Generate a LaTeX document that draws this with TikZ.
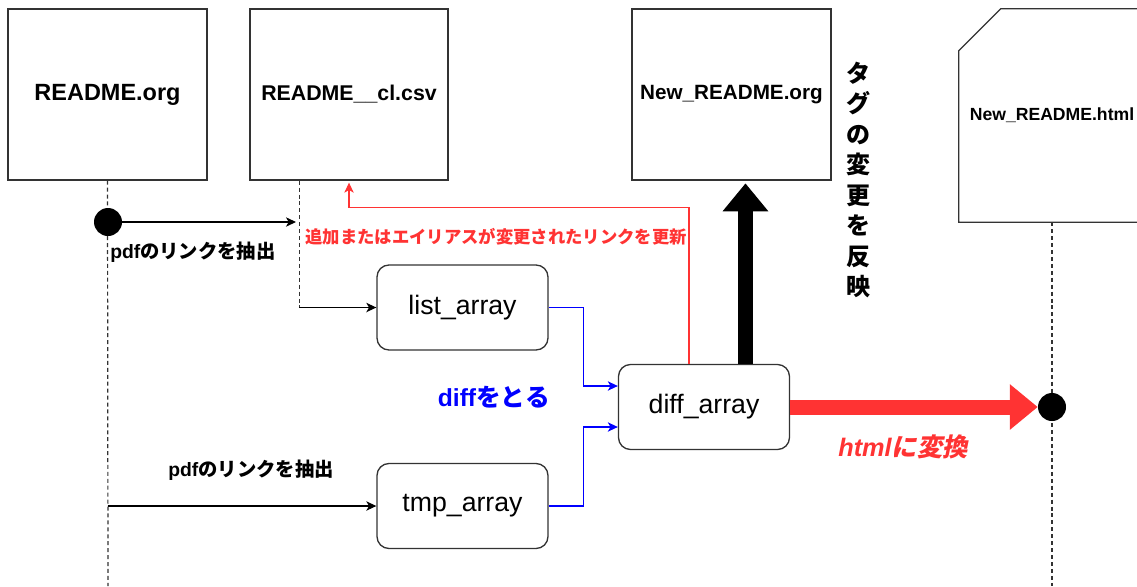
\documentclass[tikz,border=0pt]{standalone}
\usepackage{fontspec}
\setmainfont{Liberation Sans}
\newfontfamily\jp{Noto Sans CJK JP}
\newfontfamily\jpsl{Noto Sans CJK JP}[FakeSlant=0.2]
\usetikzlibrary{arrows.meta}

\definecolor{hotred}{HTML}{FF3333}
\definecolor{edge}{HTML}{333333}

\tikzset{
  doc/.style={draw=edge, line width=1pt, fill=white, minimum width=149.25pt,
    minimum height=128.25pt, inner sep=0pt, font=\bfseries},
  arrbox/.style={draw=edge, line width=1pt, rounded corners=9pt, fill=white,
    minimum width=128.25pt, minimum height=63.75pt, inner sep=0pt,
    font=\fontsize{20}{24}\selectfont},
  life/.style={draw=edge, line width=0.9pt, dash pattern=on 3pt off 2.2pt},
  dot/.style={circle, fill=black, minimum size=21pt, inner sep=0pt},
  msg/.style={line width=0.9pt, -{Stealth[length=7.5pt,width=7pt,inset=2pt]}},
  lbl/.style={inner sep=0pt},
  fat/.style={line width=11.25pt, -{Triangle[length=21pt,width=33pt]}},
}

\begin{document}
\begin{tikzpicture}[x=0.75pt,y=-0.75pt]
\useasboundingbox (0,0) rectangle (1137,586);
\clip (0,0) rectangle (1137,586);

% documents along the top
\node[doc, font=\fontsize{17.6}{22}\bfseries\selectfont] (readme) at (107.5,94.5) {README.org};
\node[doc, minimum width=148.5pt, font=\fontsize{16}{20}\bfseries\selectfont] (cl) at (349,94.5) {README\_\_cl.csv};
\node[doc, font=\fontsize{15.5}{19}\bfseries\selectfont] (neworg) at (731.5,94.5) {New\_README.org};
\node[inner sep=0pt, minimum width=139.5pt, minimum height=159.75pt] (html) at (1052,115.5) {};
\draw[draw=edge, line width=1pt, fill=white]
  (html.south west) -- ([yshift=-31.5pt]html.north west)
  -- ([xshift=31.5pt]html.north west) -- (html.north east)
  -- (html.south east) -- cycle;
\node[lbl, font=\fontsize{13.2}{16}\bfseries\selectfont] (htmltext) at (html.center) {New\_README.html};

% processing boxes
\node[arrbox] (list) at (462.5,307.5) {list\_array};
\node[arrbox] (diff) at (704,407) {diff\_array};
\node[arrbox] (tmp) at (462.5,506) {tmp\_array};

% lifelines
\coordinate (bot1) at (108,586);
\coordinate (bot2) at (1052,586);
\coordinate (clL) at ([xshift=37.5pt]cl.south west);
\draw[life] (readme.south) -- (bot1);
\draw[life] (clL) -- (clL |- list.west);
\draw[life] (html.south) -- (bot2);

\node[dot] (dot1) at (108,222) {};
\node[dot] (dot2) at (1052,407) {};

% messages
\draw[msg, shorten >=2.5pt] (dot1) -- (clL |- dot1);
\draw[msg] (clL |- list.west) -- (list.west);
\draw[msg] (readme.south |- tmp.west) -- (tmp.west);

\node[lbl, anchor=west, font=\fontsize{14.5}{17}\selectfont] (lab1) at (110,252)
  {\bfseries pdf{\jp\bfseries のリンクを抽出}};
\node[lbl, font=\fontsize{14.5}{17}\selectfont] (lab2) at (251,470)
  {\bfseries pdf{\jp\bfseries のリンクを抽出}};

% merge into diff_array
\draw[msg, blue] (list.east) -- ++(35,0) |- ([yshift=15.75pt]diff.west);
\draw[msg, blue] (tmp.east) -- ++(35,0) |- ([yshift=-15pt]diff.west);
\node[lbl, text=blue, font=\fontsize{18.5}{22}\selectfont] (difflab) at (494,397)
  {\bfseries diff{\jp\bfseries をとる}};

% feedback to the csv
\draw[hotred, line width=0.8pt, -{Stealth[length=7.5pt,width=7pt,inset=2pt]}, shorten >=1.5pt]
  ([xshift=-11.25pt]diff.north) -- ++(0,-156) -| (cl.south);
\node[lbl, text=hotred, font=\jp\bfseries\fontsize{13}{16}\selectfont] (updlab) at (496,237)
  {追加またはエイリアスが変更されたリンクを更新};

% tag update
\draw[fat, black, shorten >=2pt] ([xshift=31.1pt]diff.north) -- ([xshift=31.1pt]diff.north |- neworg.south);
\node[lbl, align=center, font=\jp\bfseries\fontsize{18}{22.9}\selectfont] (taglab) at (858,180)
  {タ\\グ\\の\\変\\更\\を\\反\\映};

% conversion to html
\draw[fat, hotred] (diff.east) -- (dot2.west);
\node[lbl, text=hotred, font=\fontsize{19}{23}\selectfont] (convlab) at (903,447)
  {\bfseries\itshape html{\jpsl\bfseries に変換}};
\end{tikzpicture}
\end{document}
